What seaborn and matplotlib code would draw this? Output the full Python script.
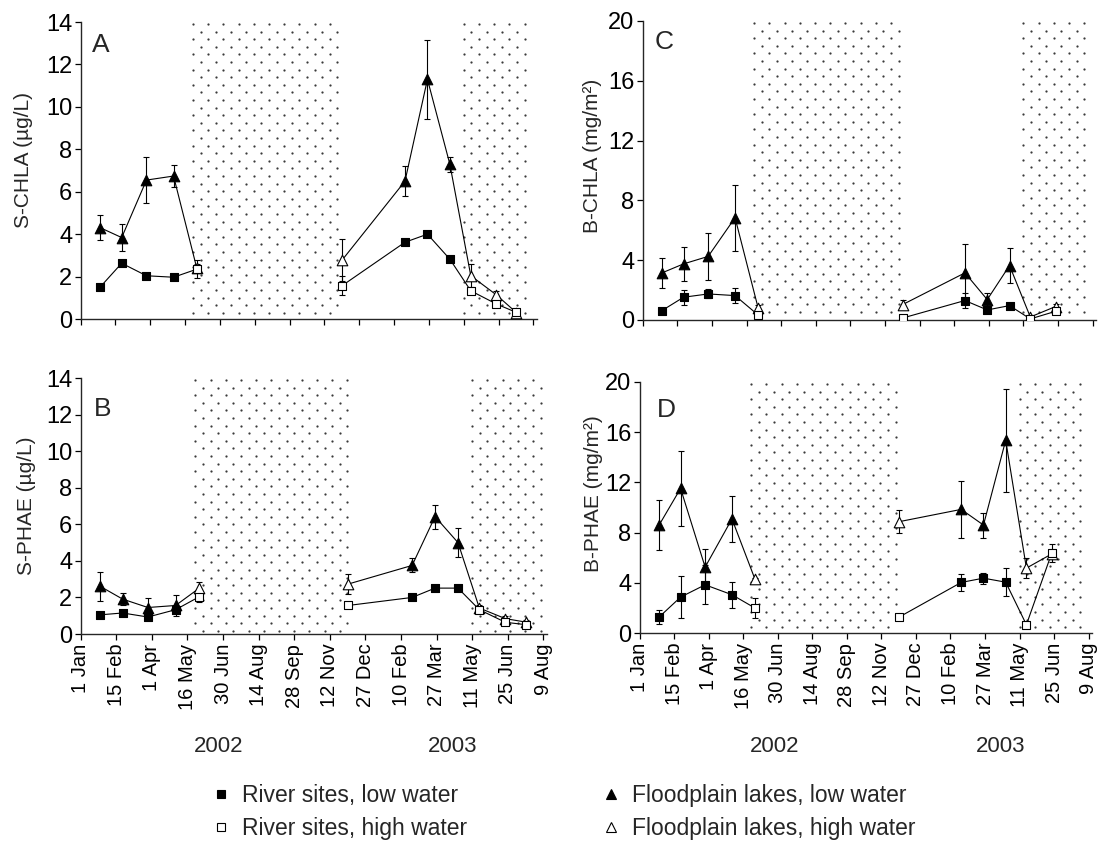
import numpy as np
import pandas as pd
import matplotlib
matplotlib.use("Agg")
import matplotlib.pyplot as plt
import matplotlib.dates as mdates
from matplotlib.transforms import blended_transform_factory
from matplotlib.lines import Line2D
import seaborn as sns

# ---------------- data ----------------
sample_dates = ["2002-01-26", "2002-02-23", "2002-03-27", "2002-05-01", "2002-05-31",
                "2002-12-05", "2003-02-24", "2003-03-25", "2003-04-23", "2003-05-20",
                "2003-06-22", "2003-07-18"]
high_water = [False, False, False, False, True, True, False, False, False, True, True, True]
segment = [0, 0, 0, 0, 0, 1, 1, 1, 1, 1, 1, 1]

# A: S-CHLA (ug/L)
a_river = [1.50, 2.63, 2.04, 1.97, 2.35, 1.58, 3.62, 4.00, 2.82, 1.33, 0.71, 0.31]
a_river_err = [0.10, 0.15, 0.15, 0.12, 0.42, 0.47, 0.10, 0.10, 0.10, 0.15, 0.15, 0.05]
a_lake = [4.31, 3.84, 6.55, 6.74, 2.40, 2.79, 6.50, 11.30, 7.29, 2.04, 1.14, 0.30]
a_lake_err = [0.60, 0.62, 1.10, 0.50, 0.20, 0.98, 0.70, 1.85, 0.37, 0.55, 0.20, 0.05]

# B: S-PHAE (ug/L)
b_river = [1.05, 1.15, 0.93, 1.33, 2.04, 1.56, 2.00, 2.51, 2.51, 1.33, 0.64, 0.51]
b_river_err = [0.10, 0.12, 0.10, 0.15, 0.30, 0.10, 0.10, 0.10, 0.10, 0.10, 0.10, 0.05]
b_lake = [2.60, 1.91, 1.45, 1.56, 2.51, 2.73, 3.75, 6.42, 5.00, 1.42, 0.84, 0.65]
b_lake_err = [0.80, 0.35, 0.50, 0.60, 0.33, 0.55, 0.38, 0.65, 0.80, 0.15, 0.15, 0.10]

# C: B-CHLA (mg/m2)  (no July 2003 sample)
c_river = [0.63, 1.52, 1.74, 1.63, 0.33, 0.13, 1.30, 0.67, 0.96, 0.07, 0.58]
c_river_err = [0.15, 0.50, 0.30, 0.50, 0.10, 0.10, 0.50, 0.20, 0.20, 0.05, 0.10]
c_lake = [3.15, 3.75, 4.25, 6.84, 0.80, 1.03, 3.15, 1.36, 3.64, 0.20, 0.90]
c_lake_err = [1.00, 1.15, 1.55, 2.20, 0.20, 0.30, 1.90, 0.45, 1.15, 0.10, 0.20]

# D: B-PHAE (mg/m2)  (no July 2003 sample)
d_river = [1.27, 2.86, 3.84, 3.05, 1.99, 1.27, 4.03, 4.37, 4.05, 0.66, 6.36]
d_river_err = [0.55, 1.70, 1.55, 1.05, 0.80, 0.10, 0.65, 0.45, 1.10, 0.10, 0.70]
d_lake = [8.60, 11.52, 5.25, 9.09, 4.29, 8.87, 9.85, 8.60, 15.36, 5.17, 6.30]
d_lake_err = [2.00, 3.00, 1.45, 1.85, 0.10, 0.90, 2.30, 1.00, 4.10, 0.80, 0.20]

axis_start = "2002-01-01"
tick_dates = pd.date_range(axis_start, periods=14, freq="45D")
tick_labels = [f"{d.day} {d.strftime('%b')}" for d in tick_dates]
years = ["2002", "2003"]
year_dates = ["2002-06-25", "2003-04-16"]
flood_spans = [("2002-05-26", "2002-12-07"), ("2003-05-11", "2003-08-06")]

legend_labels = ["River sites, low water", "River sites, high water",
                 "Floodplain lakes, low water", "Floodplain lakes, high water"]

# ---------------- style ----------------
sns.set_style("ticks")
plt.rcParams["font.family"] = ["Liberation Sans", "DejaVu Sans"]
plt.rcParams["axes.linewidth"] = 1.0

W, H = 1099, 844
fig = plt.figure(figsize=(W / 100, H / 100), dpi=100)

x0 = pd.Timestamp(axis_start)
x1 = x0 + pd.Timedelta(days=589.5)

panels = [
    dict(letter="A", pos=[0.0734, 0.622, 0.4152, 0.3519], river=a_river, rerr=a_river_err,
         lake=a_lake, lerr=a_lake_err, ymax=14, ystep=2, ylabel="S-CHLA (µg/L)",
         lpos=(0.025, 0.900), ylc=(-0.104, 0.535), xlab=False),
    dict(letter="B", pos=[0.0734, 0.2488, 0.4243, 0.3033], river=b_river, rerr=b_river_err,
         lake=b_lake, lerr=b_lake_err, ymax=14, ystep=2, ylabel="S-PHAE (µg/L)",
         lpos=(0.028, 0.850), ylc=(-0.096, 0.50), xlab=True),
    dict(letter="C", pos=[0.5849, 0.6209, 0.4124, 0.3543], river=c_river, rerr=c_river_err,
         lake=c_lake, lerr=c_lake_err, ymax=20, ystep=4, ylabel="B-CHLA (mg/m²)",
         lpos=(0.025, 0.905), ylc=(-0.090, 0.548), xlab=False),
    dict(letter="D", pos=[0.5823, 0.2500, 0.4113, 0.2974], river=d_river, rerr=d_river_err,
         lake=d_lake, lerr=d_lake_err, ymax=20, ystep=4, ylabel="B-PHAE (mg/m²)",
         lpos=(0.038, 0.860), ylc=(-0.082, 0.554), xlab=True),
]


def make_frame(values, errs):
    n = len(values)
    return pd.DataFrame({
        "date": pd.to_datetime(sample_dates[:n]),
        "value": values,
        "err": errs,
        "high": high_water[:n],
        "segment": segment[:n],
    })


def draw_dots(ax, pos):
    w_px = pos[2] * W
    h_px = pos[3] * H
    px_per_day = w_px / 589.5
    dx = 15.2 / px_per_day
    dy = 7.6 / h_px
    trans = blended_transform_factory(ax.transData, ax.transAxes)
    base = mdates.date2num(x0)
    for s, e in flood_spans:
        ds = (pd.Timestamp(s) - x0).days
        de = (pd.Timestamp(e) - x0).days
        xs_all, ys_all = [], []
        k = 0
        y = 1 - 2.0 / h_px
        while y > 2.5 / h_px:
            xs = np.arange(ds + (k % 2) * dx / 2, de + 0.01, dx)
            xs_all.extend(xs)
            ys_all.extend([y] * len(xs))
            k += 1
            y -= dy
        ax.scatter(base + np.array(xs_all), ys_all, s=2.6, marker="o", color="#3a3a3a",
                   linewidths=0, transform=trans, zorder=0.5, clip_on=False)


for p in panels:
    ax = fig.add_axes(p["pos"])
    draw_dots(ax, p["pos"])
    for vals, errs, mk, ms in [(p["lake"], p["lerr"], "^", 58), (p["river"], p["rerr"], "s", 40)]:
        df = make_frame(vals, errs)
        sns.lineplot(data=df, x="date", y="value", units="segment", estimator=None,
                     color="black", lw=0.8, ax=ax, legend=False, sort=False, zorder=2)
        ax.errorbar(df["date"], df["value"], yerr=df["err"], fmt="none", ecolor="black",
                    elinewidth=0.8, capsize=2.5, capthick=0.8, zorder=2.5)
        low = df[~df["high"]]
        high = df[df["high"]]
        sns.scatterplot(data=low, x="date", y="value", marker=mk, s=ms, color="black",
                        edgecolor="black", linewidth=0.8, ax=ax, legend=False, zorder=3)
        sns.scatterplot(data=high, x="date", y="value", marker=mk, s=ms, color="white",
                        edgecolor="black", linewidth=0.8, ax=ax, legend=False, zorder=3)

    ax.set_xlim(x0, x1)
    ax.set_ylim(0, p["ymax"])
    ax.set_yticks(np.arange(0, p["ymax"] + 0.1, p["ystep"]))
    ax.set_xticks(tick_dates)
    ax.set_xticklabels(tick_labels, rotation=90, fontsize=14.5)
    ax.tick_params(axis="both", direction="out", length=4, width=0.9, colors="black")
    ax.tick_params(axis="y", labelsize=17, pad=2)
    ax.tick_params(axis="x", pad=3)
    if not p["xlab"]:
        ax.tick_params(axis="x", labelbottom=False)
    sns.despine(ax=ax)
    ax.set_xlabel("")
    ax.set_ylabel(p["ylabel"], fontsize=15)
    ax.yaxis.set_label_coords(*p["ylc"])
    ax.text(p["lpos"][0], p["lpos"][1], p["letter"], transform=ax.transAxes,
            fontsize=19, ha="left", va="baseline")
    if p["xlab"]:
        tr = blended_transform_factory(ax.transData, fig.transFigure)
        for yr, yd in zip(years, year_dates):
            ax.text(mdates.date2num(pd.Timestamp(yd)), 0.116, yr, transform=tr,
                    fontsize=16, ha="center", va="center")

handles = [
    Line2D([], [], ls="none", marker="s", ms=6, mfc="black", mec="black", mew=0.8),
    Line2D([], [], ls="none", marker="s", ms=6, mfc="white", mec="black", mew=0.8),
    Line2D([], [], ls="none", marker="^", ms=6.5, mfc="black", mec="black", mew=0.8),
    Line2D([], [], ls="none", marker="^", ms=6.5, mfc="white", mec="black", mew=0.8),
]
fig.legend(handles, legend_labels, ncol=2, loc="upper left", bbox_to_anchor=(0.195, 0.071),
           frameon=False, fontsize=16.5, handlelength=0.6, handletextpad=0.6,
           columnspacing=6.0, labelspacing=0.42, borderpad=0, borderaxespad=0)

fig.savefig("out.png", dpi=100)
